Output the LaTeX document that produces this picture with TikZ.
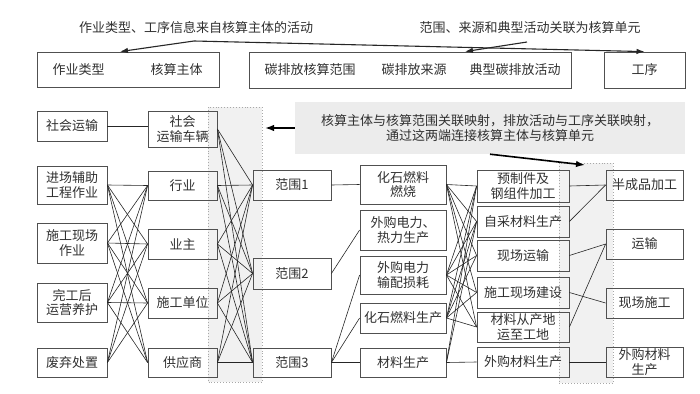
\documentclass[tikz,border=0pt]{standalone}
\usepackage{fontspec}
\setmainfont{Noto Sans CJK SC}
\usetikzlibrary{arrows.meta}
\definecolor{boxc}{HTML}{505050}
\definecolor{txt}{HTML}{303030}
\definecolor{graybg}{HTML}{F1F1F1}
\definecolor{notebg}{HTML}{ECECEC}
\definecolor{dotc}{HTML}{A8A8A8}
\newcommand\fs{\fontsize{13}{14.5}\selectfont}
\begin{document}
\begin{tikzpicture}[x=1pt,y=-1pt,
  box/.style={draw=boxc, line width=0.8pt, inner sep=1pt, align=center, font=\fs, text=txt},
  lbl/.style={font=\fs, text=txt, inner sep=0pt},
  ln/.style={draw=black!85, line width=0.6pt},
  arr/.style={draw=black!85, line width=1.1pt, -{Latex[length=8pt,width=5.5pt]}},
  barr/.style={draw=black, line width=1.6pt, -{Latex[length=9pt,width=6.5pt]}},
  zone/.style={fill=graybg, draw=dotc, dotted, line width=0.9pt}
]
\useasboundingbox (0,0) rectangle (700,393);
% background zones
\path[zone] (208,107) rectangle (262,382);
\path[zone] (559,163) rectangle (613,383);
% top row
\node[lbl] (t1) at (196,28) {作业类型、工序信息来自核算主体的活动};
\node[lbl] (t2) at (530,28) {范围、来源和典型活动关联为核算单元};
\node[box, minimum width=182pt, minimum height=35pt] (A) at (128,69.5) {};
\node[lbl] (A1) at (78.5,70) {作业类型};
\node[lbl] (A2) at (176.5,70) {核算主体};
\node[box, minimum width=322pt, minimum height=36pt] (B) at (410,70) {};
\node[lbl] (B1) at (310,70) {碳排放核算范围};
\node[lbl] (B2) at (414,70) {碳排放来源};
\node[lbl] (B3) at (515,70) {典型碳排放活动};
\node[box, minimum width=81pt, minimum height=36pt] (C) at (644.5,70) {工序};
\coordinate (j1) at (194,41);
\coordinate (j2) at (527,42);
\draw[arr] (j1) -- ([xshift=-8pt]A.north);
\draw[arr] (j1) -- (C.north);
\draw[arr] (j2) -- ([xshift=55pt]B.north);
% note
\node[fill=notebg, minimum width=390pt, minimum height=52pt, align=center, font=\fs, text=txt, inner sep=0pt] (note) at (490,128)
  {核算主体与核算范围关联映射，排放活动与工序关联映射，\\通过这两端连接核算主体与核算单元};
\coordinate (na) at (265,128);
\coordinate (nb) at (585,165);
\draw[barr] (note.west) -- (na);
\draw[barr] (note.south) -- (nb);
% column 1
\node[box, minimum width=70pt, minimum height=30pt] (c1a) at (72,126) {社会运输};
\node[box, minimum width=70pt, minimum height=38pt] (c1b) at (72,185) {进场辅助\\工程作业};
\node[box, minimum width=70pt, minimum height=40pt] (c1c) at (72,243) {施工现场\\作业};
\node[box, minimum width=70pt, minimum height=39pt] (c1d) at (72,302.5) {完工后\\运营养护};
\node[box, minimum width=70pt, minimum height=29pt] (c1e) at (72,362.5) {废弃处置};
% column 2
\node[box, minimum width=69pt, minimum height=36pt] (c2a) at (182.5,129) {社会\\运输车辆};
\node[box, minimum width=69pt, minimum height=29pt] (c2b) at (182.5,185.5) {行业};
\node[box, minimum width=69pt, minimum height=30pt] (c2c) at (182.5,244) {业主};
\node[box, minimum width=69pt, minimum height=30pt] (c2d) at (182.5,303) {施工单位};
\node[box, minimum width=69pt, minimum height=29pt] (c2e) at (182.5,362.5) {供应商};
% column 3
\node[box, minimum width=78pt, minimum height=30pt] (r1) at (292,185) {范围1};
\node[box, minimum width=78pt, minimum height=31pt] (r2) at (292,273.5) {范围2};
\node[box, minimum width=78pt, minimum height=29pt] (r3) at (292,362.5) {范围3};
% column 4
\node[box, minimum width=86pt, minimum height=39pt] (d1) at (403,184.5) {化石燃料\\燃烧};
\node[box, minimum width=86pt, minimum height=40pt] (d2) at (403,230) {外购电力、\\热力生产};
\node[box, minimum width=86pt, minimum height=38pt] (d3) at (403,275) {外购电力\\输配损耗};
\node[box, minimum width=86pt, minimum height=30pt] (d4) at (403,318) {化石燃料生产};
\node[box, minimum width=86pt, minimum height=29pt] (d5) at (403,362.5) {材料生产};
% column 5
\node[box, minimum width=92pt, minimum height=32pt] (e1) at (523,186) {预制件及\\钢组件加工};
\node[box, minimum width=92pt, minimum height=31pt] (e2) at (523,221.5) {自采材料生产};
\node[box, minimum width=92pt, minimum height=31pt] (e3) at (523,255.5) {现场运输};
\node[box, minimum width=92pt, minimum height=31pt] (e4) at (523,292.5) {施工现场建设};
\node[box, minimum width=92pt, minimum height=30pt] (e5) at (523,327) {材料从产地\\运至工地};
\node[box, minimum width=92pt, minimum height=30pt] (e6) at (523,362) {外购材料生产};
% column 6
\node[box, minimum width=77pt, minimum height=30pt] (f1) at (644.5,185) {半成品加工};
\node[box, minimum width=77pt, minimum height=30pt] (f2) at (644.5,244) {运输};
\node[box, minimum width=77pt, minimum height=30pt] (f3) at (644.5,303) {现场施工};
\node[box, minimum width=77pt, minimum height=30pt] (f4) at (644.5,362) {外购材料\\生产};
% connectors
\draw[ln] (c1a.east) -- (c1a.east -| c2a.west);
\foreach \a/\b in {c1b/c2b,c1b/c2c,c1b/c2d,c1b/c2e,
                   c1c/c2b,c1c/c2c,c1c/c2d,c1c/c2e,
                   c1d/c2b,c1d/c2c,c1d/c2d,c1d/c2e,
                   c1e/c2b,c1e/c2c,c1e/c2d}
  \draw[ln] (\a.east) -- (\b.west);
\foreach \a in {c2a,c2b,c2c,c2d,c2e}
  \foreach \b in {r1,r2,r3}
    \draw[ln] (\a.east) -- (\b.west);
\foreach \a/\b in {r1/d1,r2/d2,r3/d3,r3/d4,r3/d5}
  \draw[ln] (\a.east) -- (\b.west);
\foreach \a/\b in {d1/e1,d1/e2,d1/e3,d1/e4,d1/e5,
                   d3/e1,d3/e2,d3/e3,d3/e4,d3/e5,
                   d4/e1,d4/e2,d4/e3,d4/e4,d4/e5,
                   d5/e1,d5/e2,d5/e6}
  \draw[ln] (\a.east) -- (\b.west);
\foreach \a/\b in {e1/f1,e2/f1,e3/f2,e5/f2,e4/f3,e6/f4}
  \draw[ln] (\a.east) -- (\b.west);
\end{tikzpicture}
\end{document}
